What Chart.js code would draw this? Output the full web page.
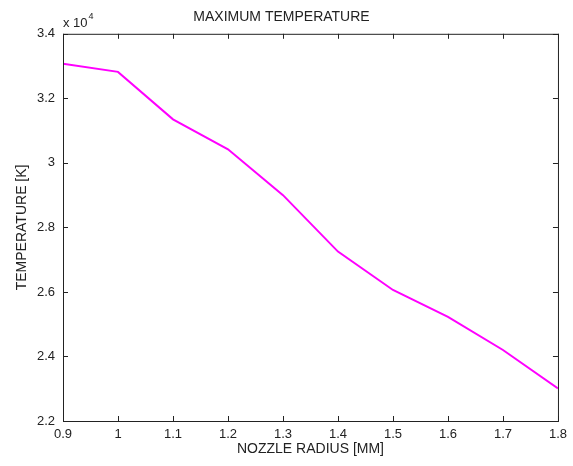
<!DOCTYPE html>
<html lang="en">
<head>
    <meta charset="UTF-8" />
    <title>Maximum Temperature</title>
    <script src="https://cdn.jsdelivr.net/npm/chart.js"></script>
    <style>
        body { margin: 0; background: #fff; }
    </style>
</head>
<body>
    <canvas id="chart" width="573" height="466"></canvas>

    <script>
        // nozzle radius [mm] and max temperature [K]
        const radius = [0.9, 1.0, 1.1, 1.2, 1.3, 1.4, 1.5, 1.6, 1.7, 1.8];
        const temperature = [33070, 32820, 31350, 30420, 29000, 27250, 26060, 25230, 24200, 23010];

        const FONT = "'Liberation Sans', Arial, sans-serif";

        const fmt = v => String(parseFloat(v.toFixed(1)));

        // matlab style box with inward ticks + the exponent label
        const matlabBox = {
            id: 'matlabBox',
            afterDraw(chart) {
                const { ctx, chartArea: a, scales } = chart;
                ctx.save();
                ctx.strokeStyle = '#222';
                ctx.lineWidth = 1;
                ctx.strokeRect(a.left + 0.5, a.top + 0.5, a.right - a.left, a.bottom - a.top);
                const len = 5;
                ctx.beginPath();
                scales.x.ticks.forEach(t => {
                    const px = Math.round(scales.x.getPixelForValue(t.value)) + 0.5;
                    ctx.moveTo(px, a.bottom); ctx.lineTo(px, a.bottom - len);
                    ctx.moveTo(px, a.top); ctx.lineTo(px, a.top + len);
                });
                scales.y.ticks.forEach(t => {
                    const py = Math.round(scales.y.getPixelForValue(t.value)) + 0.5;
                    ctx.moveTo(a.left, py); ctx.lineTo(a.left + len, py);
                    ctx.moveTo(a.right, py); ctx.lineTo(a.right - len, py);
                });
                ctx.stroke();

                ctx.fillStyle = '#222';
                ctx.textBaseline = 'alphabetic';
                ctx.font = '13px ' + FONT;
                ctx.fillText('x 10', a.left, a.top - 7);
                const w = ctx.measureText('x 10').width;
                ctx.font = '9px ' + FONT;
                ctx.fillText('4', a.left + w + 1, a.top - 15);
                ctx.restore();
            }
        };

        new Chart(document.getElementById('chart'), {
            type: 'line',
            data: {
                datasets: [{
                    data: radius.map((r, i) => ({ x: r, y: temperature[i] })),
                    borderColor: '#ff00ff',
                    borderWidth: 2,
                    pointRadius: 0,
                    tension: 0,
                    fill: false
                }]
            },
            options: {
                responsive: false,
                animation: false,
                layout: { padding: { left: 0, right: 10, top: 0, bottom: 0 } },
                plugins: {
                    legend: { display: false },
                    tooltip: { enabled: false },
                    title: {
                        display: true,
                        text: 'MAXIMUM TEMPERATURE',
                        color: '#222',
                        font: { family: FONT, size: 14, weight: 'normal' },
                        padding: { top: 9, bottom: 8 }
                    }
                },
                scales: {
                    x: {
                        type: 'linear',
                        min: 0.9,
                        max: 1.8,
                        afterFit: s => { s.height = 45; },
                        grid: { display: false, drawTicks: false },
                        border: { display: false },
                        ticks: {
                            stepSize: 0.1,
                            padding: 6,
                            color: '#222',
                            font: { family: FONT, size: 13 },
                            maxRotation: 0,
                            callback: v => fmt(v)
                        },
                        title: {
                            display: true,
                            text: 'NOZZLE RADIUS [MM]',
                            color: '#222',
                            font: { family: FONT, size: 14 },
                            padding: { top: 0, bottom: 8 }
                        }
                    },
                    y: {
                        min: 22000,
                        max: 34000,
                        afterFit: s => { s.width = 63; },
                        grid: { display: false, drawTicks: false },
                        border: { display: false },
                        ticks: {
                            stepSize: 2000,
                            padding: 8,
                            color: '#222',
                            font: { family: FONT, size: 13 },
                            callback: v => fmt(v / 10000)
                        },
                        title: {
                            display: true,
                            text: 'TEMPERATURE [K]',
                            color: '#222',
                            font: { family: FONT, size: 14 },
                            padding: { top: 14, bottom: 0 }
                        }
                    }
                }
            },
            plugins: [matlabBox]
        });
    </script>
</body>
</html>
